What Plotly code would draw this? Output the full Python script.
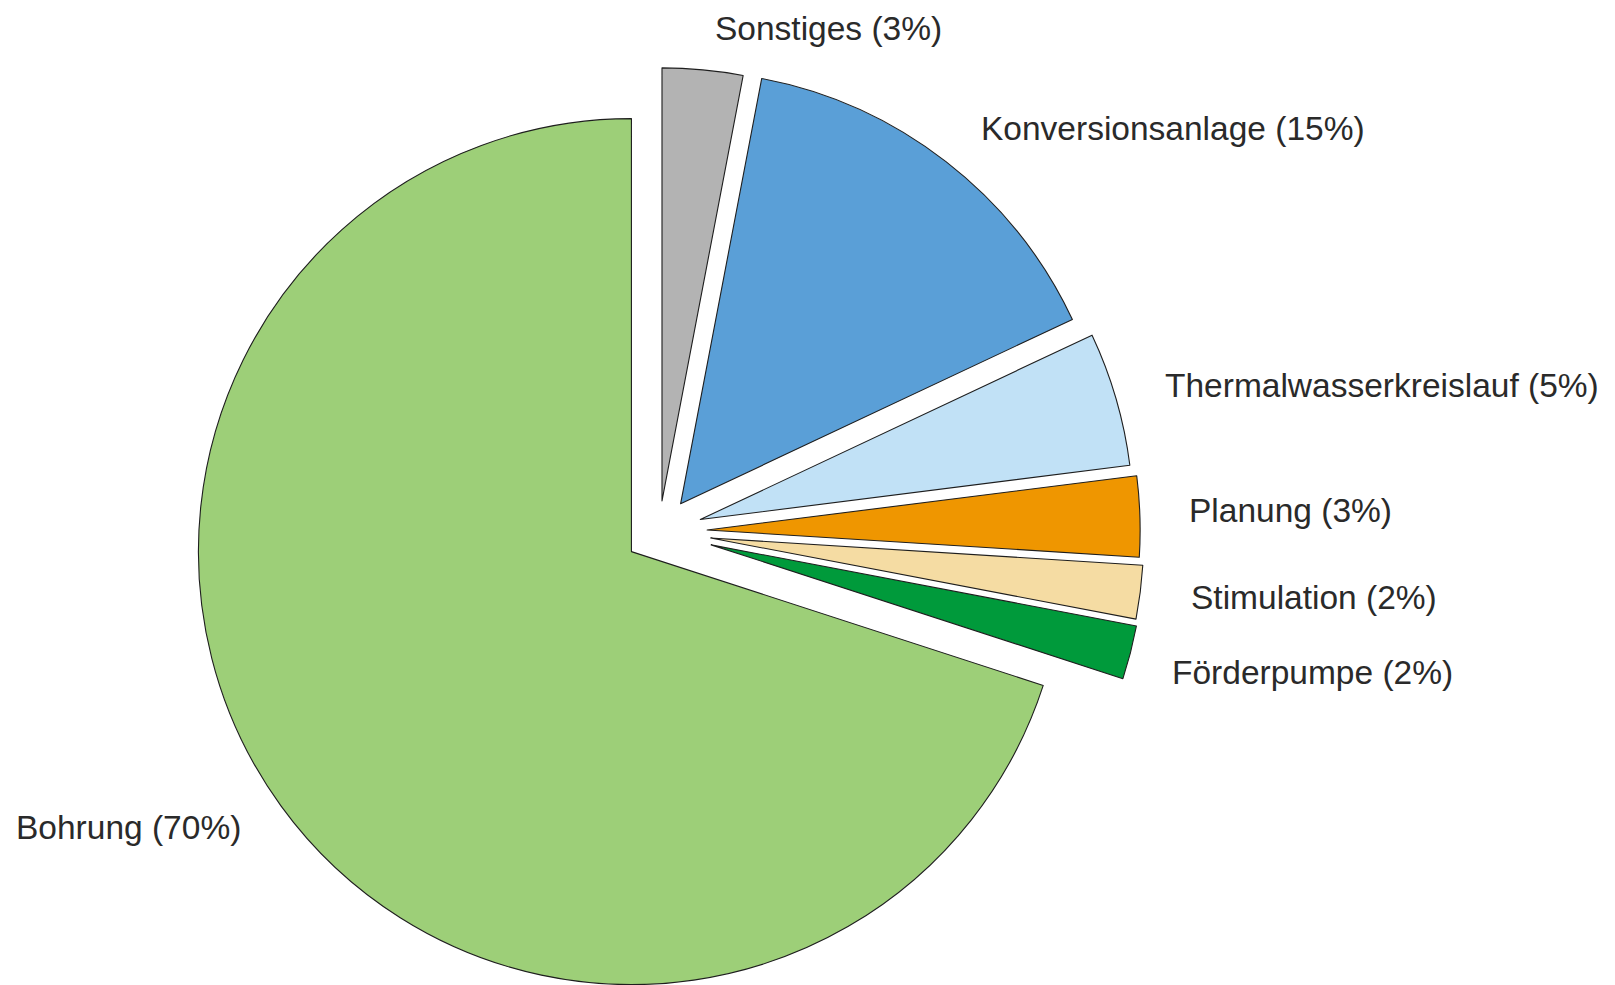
import math
import plotly.graph_objects as go

# ---- data ----
labels = ["Sonstiges", "Konversionsanlage", "Thermalwasserkreislauf", "Planung",
          "Stimulation", "Förderpumpe", "Bohrung"]
values = [3, 15, 5, 3, 2, 2, 70]
colors = ["#b3b3b3", "#5a9fd7", "#c1e1f6", "#ef9600", "#f5dca3", "#009a3b", "#9dcf78"]
# explosion of each slice, as a fraction of the radius
pulls = [0.071, 0.081, 0.099, 0.111, 0.120, 0.124, 0.079]

# ---- layout config ----
OFF = 8                      # page body margin of the html page
W, H = 1615 - OFF, 985 - OFF
R = 433                      # pie radius in px
C0 = (659.1 - OFF, 531.5 - OFF)   # un-exploded pie centre in px
label_pos = {                # left edge x, text middle y (px, page coords)
    "Sonstiges": (713, 28),
    "Konversionsanlage": (979, 128),
    "Thermalwasserkreislauf": (1163, 386),
    "Planung": (1187, 510),
    "Stimulation": (1189, 597),
    "Förderpumpe": (1170, 672),
    "Bohrung": (14, 827),
}

fig = go.Figure()
total = sum(values)
start = 0.0
for i, (lab, val) in enumerate(zip(labels, values)):
    mid = start + val / total * 360 / 2
    start += val / total * 360
    a = math.radians(mid)
    cx = C0[0] + pulls[i] * R * math.sin(a)
    cy = C0[1] - pulls[i] * R * math.cos(a)
    slice_colors = ["rgba(0,0,0,0)"] * len(values)
    slice_colors[i] = colors[i]
    line_w = [0] * len(values)
    line_w[i] = 1.1
    fig.add_trace(go.Pie(
        labels=labels, values=values, sort=False, direction="clockwise", rotation=0,
        marker=dict(colors=slice_colors, line=dict(color="#1e1e1e", width=line_w)),
        textinfo="none", hoverinfo="label+percent", showlegend=False,
        domain=dict(x=[max(0, (cx - R) / W), min(1, (cx + R) / W)],
                    y=[max(0, 1 - (cy + R) / H), min(1, 1 - (cy - R) / H)]),
    ))

for lab, val in zip(labels, values):
    x, y = label_pos[lab]
    fig.add_annotation(
        text=f"{lab} ({val}%)", x=(x - OFF) / W, y=1 - (y - OFF) / H,
        xref="paper", yref="paper",
        xanchor="left", yanchor="middle", showarrow=False,
        font=dict(family="Liberation Sans, Arial, sans-serif", size=33.5, color="#2a2a2a"),
    )

fig.update_layout(
    width=W, height=H, margin=dict(l=0, r=0, t=0, b=0),
    paper_bgcolor="white", plot_bgcolor="white",
)
fig.write_html("out.html")
